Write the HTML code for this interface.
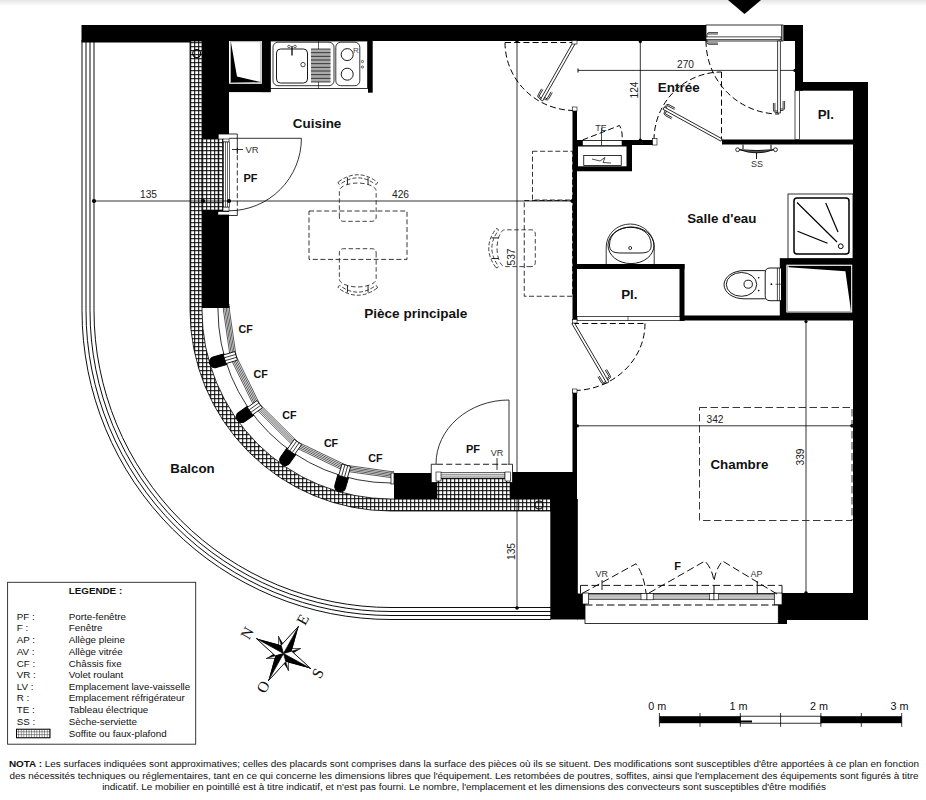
<!DOCTYPE html>
<html><head><meta charset="utf-8"><style>
html,body{margin:0;padding:0;background:#fff;width:926px;height:800px;overflow:hidden}
svg{display:block}
text{font-family:"Liberation Sans", sans-serif}
</style></head><body>
<svg width="926" height="800" viewBox="0 0 926 800">
<defs>
<linearGradient id="topg" x1="0" y1="0" x2="0" y2="1"><stop offset="0" stop-color="#e4e4e4"/><stop offset="1" stop-color="#fff"/></linearGradient>
<pattern id="hatch" patternUnits="userSpaceOnUse" x="2.2" y="2.2" width="4" height="4"><rect width="4" height="4" fill="#fff"/><path d="M0,0.5 H4 M0.5,0 V4" stroke="#000" stroke-width="1.0"/></pattern>
<pattern id="hatch2" patternUnits="userSpaceOnUse" x="0" y="0.5" width="2.6" height="2.9"><rect width="2.6" height="2.9" fill="#fff"/><path d="M0,0.3 H2.6 M0.3,0 V2.9" stroke="#333" stroke-width="0.6"/></pattern>
</defs>
<rect x="0" y="0" width="926" height="6" fill="url(#topg)" stroke="none" stroke-width="1" />
<polygon points="728,0 761,0 744.5,14" fill="#000"/>
<path d="M82,41 V310.5 A309,309 0 0 0 391,619.5 H551" fill="none" stroke="#000" stroke-width="0.95" />
<path d="M86,41 V310.5 A305,305 0 0 0 391,615.5 H551" fill="none" stroke="#000" stroke-width="0.95" />
<path d="M90,41 V310.5 A301,301 0 0 0 391,611.5 H551" fill="none" stroke="#000" stroke-width="0.95" />
<path d="M94,41 V310.5 A297,297 0 0 0 391,607.5 H551" fill="none" stroke="#000" stroke-width="0.95" />
<rect x="81.5" y="40" width="120.5" height="2.5" fill="#000" stroke="none" stroke-width="1" />
<path d="M190,41 V310.0 A201,201 0 0 0 391.0,511 H551 V499 H391.0 A189,189 0 0 1 202,310.0 V41 Z" fill="url(#hatch)" stroke="#000" stroke-width="0.8" />
<circle cx="196.7" cy="53.5" r="4" fill="none" stroke="#000" stroke-width="1.1"/>
<circle cx="539" cy="505" r="4" fill="none" stroke="#000" stroke-width="1.1"/>
<path d="M218,308 L218,310 A173,173 0 0 0 391,483 L394,483" fill="none" stroke="#000" stroke-width="0.8" />
<path d="M229.4,306 L229.4,310 L236.05,355.9 L259.69,404.19 L297.85,442.05 L346.32,465.3 L391,471.6 L394,471.6" fill="none" stroke="#000" stroke-width="0.65" />
<path d="M227.9,306 L227.9,310 L234.62,356.32 L258.47,405.06 L296.98,443.28 L345.91,466.74 L391,473.1 L394,473.1" fill="none" stroke="#000" stroke-width="0.65" />
<path d="M226.4,306 L226.4,310 L233.18,356.75 L257.25,405.93 L296.12,444.5 L345.49,468.18 L391,474.6 L394,474.6" fill="none" stroke="#000" stroke-width="0.65" />
<path d="M224.9,306 L224.9,310 L231.74,357.17 L256.03,406.81 L295.25,445.73 L345.08,469.63 L391,476.1 L394,476.1" fill="none" stroke="#000" stroke-width="0.65" />
<path d="M223.4,306 L223.4,310 L230.3,357.6 L254.81,407.68 L294.39,446.95 L344.66,471.07 L391,477.6 L394,477.6" fill="none" stroke="#000" stroke-width="0.65" />
<g transform="translate(217.45,361.41) rotate(-16.5)"><path d="M-8,-5.5 H3 A5,5.5 0 0 1 3,5.5 H-8 Z" fill="#000" stroke="#000" stroke-width="1" stroke-linejoin="round" transform="scale(-1,1)"/></g>
<g transform="translate(230.4,357.57) rotate(-16.5)"><rect x="-6" y="-4.5" width="12" height="9" fill="#fff" stroke="#000" stroke-width="0.8"/><line x1="-6" y1="-1.5" x2="6" y2="-1.5" stroke="#000" stroke-width="0.7"/><line x1="-6" y1="1.5" x2="6" y2="1.5" stroke="#000" stroke-width="0.7"/></g>
<g transform="translate(243.92,415.49) rotate(-35.65)"><path d="M-8,-5.5 H3 A5,5.5 0 0 1 3,5.5 H-8 Z" fill="#000" stroke="#000" stroke-width="1" stroke-linejoin="round" transform="scale(-1,1)"/></g>
<g transform="translate(254.89,407.62) rotate(-35.65)"><rect x="-6" y="-4.5" width="12" height="9" fill="#fff" stroke="#000" stroke-width="0.8"/><line x1="-6" y1="-1.5" x2="6" y2="-1.5" stroke="#000" stroke-width="0.7"/><line x1="-6" y1="1.5" x2="6" y2="1.5" stroke="#000" stroke-width="0.7"/></g>
<g transform="translate(286.67,457.9) rotate(-54.8)"><path d="M-8,-5.5 H3 A5,5.5 0 0 1 3,5.5 H-8 Z" fill="#000" stroke="#000" stroke-width="1" stroke-linejoin="round" transform="scale(-1,1)"/></g>
<g transform="translate(294.45,446.87) rotate(-54.8)"><rect x="-6" y="-4.5" width="12" height="9" fill="#fff" stroke="#000" stroke-width="0.8"/><line x1="-6" y1="-1.5" x2="6" y2="-1.5" stroke="#000" stroke-width="0.7"/><line x1="-6" y1="1.5" x2="6" y2="1.5" stroke="#000" stroke-width="0.7"/></g>
<g transform="translate(340.96,483.94) rotate(-73.95)"><path d="M-8,-5.5 H3 A5,5.5 0 0 1 3,5.5 H-8 Z" fill="#000" stroke="#000" stroke-width="1" stroke-linejoin="round" transform="scale(-1,1)"/></g>
<g transform="translate(344.69,470.97) rotate(-73.95)"><rect x="-6" y="-4.5" width="12" height="9" fill="#fff" stroke="#000" stroke-width="0.8"/><line x1="-6" y1="-1.5" x2="6" y2="-1.5" stroke="#000" stroke-width="0.7"/><line x1="-6" y1="1.5" x2="6" y2="1.5" stroke="#000" stroke-width="0.7"/></g>
<rect x="218" y="304.5" width="11" height="3" fill="#fff" stroke="#000" stroke-width="0.7" />
<rect x="391" y="473" width="3" height="11" fill="#fff" stroke="#000" stroke-width="0.7" />
<rect x="81.5" y="25" width="624.5" height="16" fill="#000" stroke="none" stroke-width="1" />
<rect x="783.5" y="25" width="19.5" height="16" fill="#000" stroke="none" stroke-width="1" />
<rect x="795" y="41" width="8" height="49.7" fill="#000" stroke="none" stroke-width="1" />
<rect x="795" y="82" width="73" height="8.7" fill="#000" stroke="none" stroke-width="1" />
<rect x="853" y="82" width="15" height="538" fill="#000" stroke="none" stroke-width="1" />
<rect x="782" y="593" width="86" height="27" fill="#000" stroke="none" stroke-width="1" />
<rect x="778" y="604.7" width="9" height="19.3" fill="#000" stroke="none" stroke-width="1" />
<rect x="202" y="41" width="27" height="98" fill="#000" stroke="none" stroke-width="1" />
<rect x="202" y="210" width="27" height="98" fill="#000" stroke="none" stroke-width="1" />
<rect x="229" y="83.6" width="41.6" height="8.5" fill="#000" stroke="none" stroke-width="1" />
<rect x="261.7" y="41" width="8.9" height="51.1" fill="#000" stroke="none" stroke-width="1" />
<rect x="368" y="41" width="4.7" height="51.7" fill="#000" stroke="none" stroke-width="1" />
<rect x="572.5" y="110" width="4.5" height="211" fill="#000" stroke="none" stroke-width="1" />
<rect x="572.5" y="390" width="4.5" height="82" fill="#000" stroke="none" stroke-width="1" />
<rect x="622" y="140" width="32" height="5" fill="#000" stroke="none" stroke-width="1" />
<rect x="722" y="139.5" width="131" height="5" fill="#000" stroke="none" stroke-width="1" />
<rect x="577" y="264" width="107.5" height="5" fill="#000" stroke="none" stroke-width="1" />
<rect x="679.5" y="264" width="5" height="57" fill="#000" stroke="none" stroke-width="1" />
<rect x="684" y="315.5" width="169" height="5" fill="#000" stroke="none" stroke-width="1" />
<rect x="394" y="473" width="43" height="26" fill="#000" stroke="none" stroke-width="1" />
<rect x="510" y="472" width="67" height="27" fill="#000" stroke="none" stroke-width="1" />
<rect x="550.3" y="499" width="27.5" height="120.5" fill="#000" stroke="none" stroke-width="1" />
<rect x="577" y="593.5" width="8" height="26" fill="#000" stroke="none" stroke-width="1" />
<rect x="218.2" y="134" width="19.1" height="5.5" fill="#fff" stroke="none" stroke-width="1" />
<rect x="229" y="139" width="8.3" height="76.5" fill="#fff" stroke="none" stroke-width="1" />
<rect x="218.2" y="211.8" width="10.8" height="2.8" fill="#fff" stroke="none" stroke-width="1" />
<rect x="202" y="139" width="21.5" height="71" fill="url(#hatch)" stroke="#000" stroke-width="0.6" />
<path d="M237.3,140 V134 H218.2 V211.8 M229,215.5 H237.3 V209" fill="none" stroke="#000" stroke-width="0.8" />
<rect x="223" y="139" width="6" height="3" fill="#fff" stroke="#000" stroke-width="0.6" />
<rect x="223" y="207" width="6" height="4" fill="#fff" stroke="#000" stroke-width="0.6" />
<rect x="223.5" y="142" width="6" height="65" fill="#fff" stroke="#000" stroke-width="0.6" />
<line x1="225.5" y1="142" x2="225.5" y2="207" stroke="#000" stroke-width="0.6" />
<line x1="227.5" y1="142" x2="227.5" y2="207" stroke="#000" stroke-width="0.6" />
<line x1="229" y1="138.3" x2="301.4" y2="138.3" stroke="#000" stroke-width="0.8" />
<path d="M301.4,138.3 A72.5,72.5 0 0 1 229,210.8" fill="none" stroke="#000" stroke-width="0.8" />
<line x1="237.3" y1="140" x2="237.3" y2="209" stroke="#000" stroke-width="0.8" stroke-dasharray="5,2.6"/>
<line x1="232" y1="149.5" x2="243" y2="149.5" stroke="#000" stroke-width="0.8" />
<line x1="237.3" y1="145" x2="237.3" y2="154" stroke="#000" stroke-width="0.8" />
<text x="252" y="153" font-size="9.5" text-anchor="middle" fill="#333" >VR</text>
<text x="250.5" y="181.5" font-size="11" font-weight="bold" text-anchor="middle" fill="#111" >PF</text>
<rect x="229.6" y="41" width="32.1" height="42.6" fill="#fff" stroke="none" stroke-width="1" />
<rect x="230.6" y="41.8" width="30.3" height="41" fill="none" stroke="#777" stroke-width="0.6" />
<polygon points="231,42.5 237,76.5 260.5,82 231,82.6" fill="#000"/>
<rect x="270.4" y="41" width="97.2" height="47.6" fill="#fff" stroke="#000" stroke-width="0.8" />
<line x1="318.5" y1="41" x2="318.5" y2="88.6" stroke="#000" stroke-width="0.6" />
<rect x="273" y="42.2" width="61" height="43.5" rx="5" fill="none" stroke="#000" stroke-width="0.8"/>
<rect x="276.5" y="49" width="31" height="34" rx="4" fill="none" stroke="#000" stroke-width="0.9"/>
<rect x="311" y="49" width="19.5" height="33" fill="#aaa"/>
<line x1="311" y1="49" x2="330.5" y2="49" stroke="#000" stroke-width="0.7" />
<line x1="311" y1="52.67" x2="330.5" y2="52.67" stroke="#000" stroke-width="0.7" />
<line x1="311" y1="56.33" x2="330.5" y2="56.33" stroke="#000" stroke-width="0.7" />
<line x1="311" y1="60" x2="330.5" y2="60" stroke="#000" stroke-width="0.7" />
<line x1="311" y1="63.67" x2="330.5" y2="63.67" stroke="#000" stroke-width="0.7" />
<line x1="311" y1="67.33" x2="330.5" y2="67.33" stroke="#000" stroke-width="0.7" />
<line x1="311" y1="71" x2="330.5" y2="71" stroke="#000" stroke-width="0.7" />
<line x1="311" y1="74.67" x2="330.5" y2="74.67" stroke="#000" stroke-width="0.7" />
<line x1="311" y1="78.33" x2="330.5" y2="78.33" stroke="#000" stroke-width="0.7" />
<line x1="311" y1="82" x2="330.5" y2="82" stroke="#000" stroke-width="0.7" />
<circle cx="289" cy="46.5" r="1.3" fill="none" stroke="#000" stroke-width="0.6"/>
<circle cx="295" cy="46.5" r="1.3" fill="none" stroke="#000" stroke-width="0.6"/>
<line x1="292" y1="46" x2="292" y2="55.5" stroke="#000" stroke-width="1.3" />
<circle cx="303" cy="64.6" r="2.2" fill="none" stroke="#000" stroke-width="0.7"/>
<rect x="335.8" y="42.2" width="24" height="43.5" rx="5" fill="none" stroke="#000" stroke-width="0.8"/>
<circle cx="347.2" cy="54.6" r="6" fill="none" stroke="#000" stroke-width="0.9"/>
<circle cx="347.2" cy="74.2" r="6" fill="none" stroke="#000" stroke-width="0.9"/>
<circle cx="362.5" cy="61.5" r="1.1" fill="none" stroke="#000" stroke-width="0.6"/>
<circle cx="362.5" cy="67" r="1.1" fill="none" stroke="#000" stroke-width="0.6"/>
<text x="356" y="52.5" font-size="8" text-anchor="middle" fill="#445" >R</text>
<line x1="94" y1="201" x2="572.5" y2="201" stroke="#000" stroke-width="0.8" />
<circle cx="94" cy="201" r="2.1" fill="#000" stroke="none" stroke-width="0.8"/>
<circle cx="203" cy="201" r="2.1" fill="#000" stroke="none" stroke-width="0.8"/>
<circle cx="229" cy="201" r="2.1" fill="#000" stroke="none" stroke-width="0.8"/>
<circle cx="572.5" cy="201" r="2.1" fill="#000" stroke="none" stroke-width="0.8"/>
<text x="148.5" y="197.5" font-size="10.2" text-anchor="middle" fill="#222" >135</text>
<text x="400.5" y="197.5" font-size="10.2" text-anchor="middle" fill="#222" >426</text>
<line x1="517" y1="41" x2="517" y2="608" stroke="#000" stroke-width="0.8" />
<circle cx="517" cy="41.5" r="1.6" fill="#000" stroke="none" stroke-width="0.8"/>
<circle cx="517" cy="608" r="1.8" fill="#000" stroke="none" stroke-width="0.8"/>
<text x="0" y="0" font-size="10.2" fill="#222" text-anchor="middle" transform="translate(514.5,257) rotate(-90)">537</text>
<text x="0" y="0" font-size="10.2" fill="#222" text-anchor="middle" transform="translate(514.5,551.5) rotate(-90)">135</text>
<line x1="578" y1="70.4" x2="795" y2="70.4" stroke="#000" stroke-width="0.8" />
<line x1="578" y1="68.5" x2="578" y2="72.5" stroke="#000" stroke-width="1" />
<circle cx="795" cy="70.4" r="1.6" fill="#000" stroke="none" stroke-width="0.8"/>
<text x="685.5" y="67.5" font-size="10.2" text-anchor="middle" fill="#222" >270</text>
<line x1="640.3" y1="41" x2="640.3" y2="140" stroke="#000" stroke-width="0.8" />
<circle cx="640.3" cy="41.5" r="1.6" fill="#000" stroke="none" stroke-width="0.8"/>
<circle cx="640.3" cy="140" r="1.6" fill="#000" stroke="none" stroke-width="0.8"/>
<text x="0" y="0" font-size="10.2" fill="#222" text-anchor="middle" transform="translate(637.5,90) rotate(-90)">124</text>
<line x1="577" y1="425.8" x2="852" y2="425.8" stroke="#000" stroke-width="0.8" />
<circle cx="577.5" cy="425.8" r="1.6" fill="#000" stroke="none" stroke-width="0.8"/>
<circle cx="852" cy="425.8" r="1.8" fill="#000" stroke="none" stroke-width="0.8"/>
<text x="715" y="422.5" font-size="10.2" text-anchor="middle" fill="#222" >342</text>
<line x1="806" y1="321" x2="806" y2="593" stroke="#000" stroke-width="0.8" />
<circle cx="806" cy="321.5" r="1.6" fill="#000" stroke="none" stroke-width="0.8"/>
<circle cx="806" cy="593" r="1.8" fill="#000" stroke="none" stroke-width="0.8"/>
<text x="0" y="0" font-size="10.2" fill="#222" text-anchor="middle" transform="translate(803.5,457) rotate(-90)">339</text>
<rect x="309" y="211" width="98" height="48.4" fill="none" stroke="#000" stroke-width="0.8" stroke-dasharray="5,2.6"/>
<g transform="translate(357.75,202) rotate(0)" fill="none" stroke="#222" stroke-width="0.85"><path d="M-18.4,15 V-11 C-18.4,-16 -8,-19 0,-19 C8,-19 18.4,-16 18.4,-11 V15 Q18.4,19.3 14,19.3 H-14 Q-18.4,19.3 -18.4,15 Z" stroke-dasharray="4.5,2.6"/><path d="M-19.5,-20 Q0,-34.5 19.5,-20 A1.6,1.6 0 0 1 17.5,-17.8 Q0,-30.5 -17.5,-17.8 A1.6,1.6 0 0 1 -19.5,-20 Z" stroke-dasharray="4,2"/><line x1="-10.3" y1="-24.5" x2="-10.3" y2="-17.5" stroke-width="1"/><line x1="10.3" y1="-24.5" x2="10.3" y2="-17.5" stroke-width="1"/></g>
<g transform="translate(357.75,268) rotate(180)" fill="none" stroke="#222" stroke-width="0.85"><path d="M-18.4,15 V-11 C-18.4,-16 -8,-19 0,-19 C8,-19 18.4,-16 18.4,-11 V15 Q18.4,19.3 14,19.3 H-14 Q-18.4,19.3 -18.4,15 Z" stroke-dasharray="4.5,2.6"/><path d="M-19.5,-20 Q0,-34.5 19.5,-20 A1.6,1.6 0 0 1 17.5,-17.8 Q0,-30.5 -17.5,-17.8 A1.6,1.6 0 0 1 -19.5,-20 Z" stroke-dasharray="4,2"/><line x1="-10.3" y1="-24.5" x2="-10.3" y2="-17.5" stroke-width="1"/><line x1="10.3" y1="-24.5" x2="10.3" y2="-17.5" stroke-width="1"/></g>
<g transform="translate(516,248.2) rotate(-90)" fill="none" stroke="#222" stroke-width="0.85"><path d="M-18.4,15 V-11 C-18.4,-16 -8,-19 0,-19 C8,-19 18.4,-16 18.4,-11 V15 Q18.4,19.3 14,19.3 H-14 Q-18.4,19.3 -18.4,15 Z" stroke-dasharray="4.5,2.6"/><path d="M-19.5,-20 Q0,-34.5 19.5,-20 A1.6,1.6 0 0 1 17.5,-17.8 Q0,-30.5 -17.5,-17.8 A1.6,1.6 0 0 1 -19.5,-20 Z" stroke-dasharray="4,2"/><line x1="-10.3" y1="-24.5" x2="-10.3" y2="-17.5" stroke-width="1"/><line x1="10.3" y1="-24.5" x2="10.3" y2="-17.5" stroke-width="1"/></g>
<rect x="532.5" y="151.25" width="40" height="48.75" fill="none" stroke="#000" stroke-width="0.8" stroke-dasharray="5,2.6"/>
<rect x="524.25" y="200.5" width="48.25" height="95.75" fill="none" stroke="#000" stroke-width="0.8" stroke-dasharray="5,2.6"/>
<line x1="505" y1="42.5" x2="574.6" y2="42.5" stroke="#000" stroke-width="1.0" stroke-dasharray="6,3.2"/>
<path d="M505,42.5 A69.6,68 0 0 0 574.6,110.5" fill="none" stroke="#000" stroke-width="1.0" stroke-dasharray="6,3.2"/>
<g transform="translate(574.6,42) rotate(119.6)" fill="none" stroke="#000" stroke-width="0.75"><rect x="0" y="-1.3" width="67" height="2.6" fill="#fff"/><path d="M64.5,-1.3 V-3 Q64.5,-5.6 62,-5.6 H55 M63,-1.3 V-4.1 H55"/><path d="M66.5,1.3 V3 Q66.5,5.6 64,5.6 H57 M65,1.3 V4.1 H57"/></g>
<rect x="572" y="40.5" width="5" height="3.5" fill="#fff" stroke="#000" stroke-width="0.6" />
<rect x="572.5" y="107" width="4.5" height="4" fill="#fff" stroke="#000" stroke-width="0.6" />
<rect x="577" y="140" width="55" height="31.25" fill="#000" stroke="none" stroke-width="1" />
<rect x="578" y="146.5" width="48.5" height="19.8" fill="#fff" stroke="none" stroke-width="1" />
<rect x="582.5" y="140.5" width="39.5" height="5" fill="#fff" stroke="#000" stroke-width="0.6" />
<rect x="583.75" y="155.5" width="37.5" height="10" fill="none" stroke="#000" stroke-width="0.8" />
<path d="M592,159 L600,161 L605,157.5 L603,162.5 L611,163" fill="none" stroke="#000" stroke-width="0.7" />
<path d="M582.5,140 L619.5,125.5 Q623,132 622,140" fill="none" stroke="#000" stroke-width="1.0" stroke-dasharray="6,3.2"/>
<line x1="601.5" y1="128" x2="601.5" y2="145.5" stroke="#000" stroke-width="0.7" />
<text x="601" y="130.5" font-size="9" text-anchor="middle" fill="#333" >TE</text>
<line x1="721.5" y1="72" x2="721.5" y2="140" stroke="#000" stroke-width="1.0" stroke-dasharray="6,3.2"/>
<path d="M654,140 A67.5,68 0 0 1 721.5,72" fill="none" stroke="#000" stroke-width="1.0" stroke-dasharray="6,3.2"/>
<g transform="translate(721.5,140) rotate(208.8)" fill="none" stroke="#000" stroke-width="0.75"><rect x="0" y="-1.3" width="66" height="2.6" fill="#fff"/><path d="M63.5,-1.3 V-3 Q63.5,-5.6 61,-5.6 H54 M62,-1.3 V-4.1 H54"/><path d="M65.5,1.3 V3 Q65.5,5.6 63,5.6 H56 M64,1.3 V4.1 H56"/></g>
<rect x="652.5" y="138.5" width="4.5" height="6.5" fill="#fff" stroke="#000" stroke-width="0.6" />
<rect x="706" y="25" width="77" height="16" fill="#fff" stroke="#000" stroke-width="0.8" />
<rect x="706" y="36.9" width="75" height="2.8" fill="#fff" stroke="#000" stroke-width="0.7" />
<path d="M706,41 A73,73 0 0 0 779,114" fill="none" stroke="#000" stroke-width="1.0" stroke-dasharray="6,3.2"/>
<g transform="translate(779,41) rotate(90)" fill="none" stroke="#000" stroke-width="0.75"><rect x="0" y="-1.3" width="72" height="2.6" fill="#fff"/><path d="M69.5,-1.3 V-3 Q69.5,-5.6 67,-5.6 H60 M68,-1.3 V-4.1 H60"/><path d="M71.5,1.3 V3 Q71.5,5.6 69,5.6 H62 M70,1.3 V4.1 H62"/></g>
<path d="M707,36.9 V34.5 Q707,32.6 709,32.6 H718 M707.8,34 H718" fill="none" stroke="#000" stroke-width="0.75" />
<path d="M707,39.7 V42.5 Q707,44.3 709,44.3 H718 M707.8,43 H718" fill="none" stroke="#000" stroke-width="0.75" />
<line x1="781.5" y1="25" x2="781.5" y2="41" stroke="#000" stroke-width="0.7" />
<rect x="795" y="90.7" width="4.5" height="48.8" fill="#fff" stroke="#000" stroke-width="0.7" />
<circle cx="737.6" cy="149.7" r="1.9" fill="none" stroke="#000" stroke-width="0.8"/>
<circle cx="775.5" cy="149.7" r="1.9" fill="none" stroke="#000" stroke-width="0.8"/>
<path d="M739.5,149.7 Q757,156 773.6,149.7 Q757,151.5 739.5,149.7 Z" fill="#555" stroke="#000" stroke-width="0.9" />
<path d="M743,144.5 V149 M771,144.5 V149" fill="none" stroke="#000" stroke-width="1" />
<line x1="756.5" y1="152.5" x2="756.5" y2="159" stroke="#000" stroke-width="0.9" />
<text x="757" y="167.3" font-size="9" text-anchor="middle" fill="#333" >SS</text>
<rect x="788" y="194" width="65" height="65" fill="#fff" stroke="#000" stroke-width="0.8" />
<rect x="794" y="198" width="55" height="56" rx="3" fill="none" stroke="#000" stroke-width="1.5"/>
<line x1="797" y1="202.5" x2="837" y2="242" stroke="#000" stroke-width="1.2" />
<line x1="825.75" y1="203" x2="838" y2="232" stroke="#000" stroke-width="1.2" />
<line x1="797.5" y1="231.25" x2="827.5" y2="243.25" stroke="#000" stroke-width="1.2" />
<circle cx="840.75" cy="246.25" r="2.4" fill="none" stroke="#000" stroke-width="1"/>
<rect x="779.8" y="258.2" width="73.2" height="57.8" fill="#000" stroke="none" stroke-width="1" />
<rect x="786.3" y="264.7" width="65.9" height="47.8" fill="#fff" stroke="none" stroke-width="1" />
<rect x="787.5" y="266" width="63.5" height="45.5" fill="none" stroke="#666" stroke-width="0.5" />
<polygon points="788.7,266 851,266 851,311 845.4,271.2 788.7,267.2" fill="#000"/>
<path d="M765.5,270.6 H744 A20,14.1 0 0 0 744,298.8 H765.5" fill="none" stroke="#000" stroke-width="0.9" />
<ellipse cx="741.5" cy="284.4" rx="15.2" ry="11.9" fill="none" stroke="#000" stroke-width="0.9"/>
<ellipse cx="748.2" cy="284.2" rx="4.2" ry="4" fill="none" stroke="#000" stroke-width="0.9"/>
<circle cx="758.7" cy="277.7" r="0.8" fill="#000" stroke="none" stroke-width="0.8"/>
<circle cx="758.7" cy="290.6" r="0.8" fill="#000" stroke="none" stroke-width="0.8"/>
<path d="M781,268 H770 Q765.2,268 765.2,273 V295.7 Q765.2,300.7 770,300.7 H781" fill="#fff" stroke="#000" stroke-width="0.9" />
<line x1="777.4" y1="268" x2="777.4" y2="300.7" stroke="#000" stroke-width="0.7" />
<line x1="779.5" y1="268" x2="779.5" y2="300.7" stroke="#000" stroke-width="0.6" />
<circle cx="771.4" cy="284.2" r="0.9" fill="#000" stroke="none" stroke-width="0.8"/>
<line x1="775.5" y1="284.2" x2="781" y2="284.2" stroke="#000" stroke-width="0.6" />
<path d="M606.2,264 V247 A24,23 0 0 1 654.2,247 V264" fill="none" stroke="#000" stroke-width="0.8" stroke="#333"/>
<ellipse cx="631" cy="245.3" rx="23" ry="18.3" fill="none" stroke="#000" stroke-width="0.9"/>
<path d="M609.5,245 C609.5,233 620,227.3 630.5,227.3 C641,227.3 651.2,233 651.2,245 C651.2,251 648,253 640,253 L621,253 C613,253 609.5,251 609.5,245 Z" fill="none" stroke="#000" stroke-width="0.9" />
<circle cx="630.2" cy="248" r="1.5" fill="none" stroke="#000" stroke-width="0.8"/>
<rect x="577" y="316.5" width="103" height="4" fill="#fff" stroke="#000" stroke-width="0.7" />
<line x1="628" y1="316.5" x2="628" y2="320.5" stroke="#000" stroke-width="0.6" />
<line x1="573" y1="323.5" x2="645" y2="323.5" stroke="#000" stroke-width="1.0" stroke-dasharray="6,3.2"/>
<path d="M645,323.5 A72,67 0 0 1 575,390.5" fill="none" stroke="#000" stroke-width="1.0" stroke-dasharray="6,3.2"/>
<g transform="translate(573,323) rotate(59.7)" fill="none" stroke="#000" stroke-width="0.75"><rect x="0" y="-1.3" width="69" height="2.6" fill="#fff"/><path d="M66.5,-1.3 V-3 Q66.5,-5.6 64,-5.6 H57 M65,-1.3 V-4.1 H57"/><path d="M68.5,1.3 V3 Q68.5,5.6 66,5.6 H59 M67,1.3 V4.1 H59"/></g>
<rect x="572.5" y="319.5" width="4.5" height="3.5" fill="#fff" stroke="#000" stroke-width="0.6" />
<rect x="572.5" y="389" width="4.5" height="4" fill="#fff" stroke="#000" stroke-width="0.6" />
<rect x="699.5" y="407.5" width="152.5" height="113" fill="none" stroke="#222" stroke-width="0.9" stroke-dasharray="7.5,3.5"/>
<rect x="431.25" y="463.75" width="81.25" height="18.75" fill="#fff" stroke="none" stroke-width="1" />
<rect x="437" y="478" width="73" height="21" fill="url(#hatch)" stroke="#000" stroke-width="0.6" />
<path d="M437,464.25 H431.25 V482.5 H512.5 V464.25 H508" fill="none" stroke="#000" stroke-width="0.8" />
<line x1="437" y1="464.25" x2="508" y2="464.25" stroke="#000" stroke-width="0.9" stroke-dasharray="6,3.2"/>
<rect x="440" y="472.5" width="65" height="5.5" fill="#fff" stroke="#000" stroke-width="0.6" />
<line x1="440" y1="474.3" x2="505" y2="474.3" stroke="#000" stroke-width="0.5" />
<line x1="440" y1="476.1" x2="505" y2="476.1" stroke="#000" stroke-width="0.5" />
<rect x="436" y="472" width="5" height="9" fill="#fff" stroke="#000" stroke-width="0.6" />
<rect x="505" y="472" width="5.5" height="9" fill="#fff" stroke="#000" stroke-width="0.6" />
<line x1="509" y1="400" x2="509" y2="464" stroke="#000" stroke-width="0.8" />
<path d="M509,400 A73,64 0 0 0 436,464" fill="none" stroke="#000" stroke-width="0.8" />
<line x1="497" y1="458" x2="497" y2="470" stroke="#000" stroke-width="0.8" />
<text x="473" y="453" font-size="11" font-weight="bold" text-anchor="middle" fill="#111" >PF</text>
<text x="497" y="455.5" font-size="9" text-anchor="middle" fill="#333" >VR</text>
<rect x="585" y="593.5" width="193.3" height="29.9" fill="#fff" stroke="#000" stroke-width="0.8" />
<rect x="587" y="594" width="188" height="5.6" fill="#aaa" stroke="#222" stroke-width="0.6" />
<line x1="587" y1="595.9" x2="775" y2="595.9" stroke="#fff" stroke-width="0.5" />
<line x1="587" y1="597.7" x2="775" y2="597.7" stroke="#fff" stroke-width="0.5" />
<line x1="585" y1="605" x2="778" y2="605" stroke="#000" stroke-width="1" stroke-dasharray="7.5,3.5"/>
<rect x="641" y="593.5" width="6" height="6.3" fill="#fff" stroke="#000" stroke-width="0.6" />
<rect x="647" y="593.5" width="6.2" height="6.3" fill="#fff" stroke="#000" stroke-width="0.6" />
<rect x="709.5" y="593.5" width="4.5" height="6.3" fill="#fff" stroke="#000" stroke-width="0.6" />
<rect x="714" y="593.5" width="4.5" height="6.3" fill="#fff" stroke="#000" stroke-width="0.6" />
<rect x="582.4" y="593" width="6.2" height="11" fill="#fff" stroke="#000" stroke-width="0.7" />
<rect x="774.3" y="593" width="7.7" height="11.7" fill="#fff" stroke="#000" stroke-width="0.7" />
<line x1="580.5" y1="585.4" x2="782" y2="585.4" stroke="#000" stroke-width="0.9" stroke-dasharray="7.5,3.5"/>
<line x1="580.5" y1="585.4" x2="580.5" y2="593.5" stroke="#000" stroke-width="0.9" />
<line x1="782" y1="585.4" x2="782" y2="593.5" stroke="#000" stroke-width="0.9" />
<path d="M583,593 L636,563.75 Q644,575 646,593" fill="none" stroke="#000" stroke-width="0.95" stroke-dasharray="7.5,3.5"/>
<path d="M649,593 L705,561 Q713,570 714,582.5" fill="none" stroke="#000" stroke-width="0.95" stroke-dasharray="7.5,3.5"/>
<path d="M777,594 L722.5,561 Q715,570 714,582.5" fill="none" stroke="#000" stroke-width="0.95" stroke-dasharray="7.5,3.5"/>
<line x1="602" y1="580" x2="602" y2="590" stroke="#000" stroke-width="0.9" />
<line x1="714" y1="585" x2="714" y2="593.5" stroke="#000" stroke-width="1" />
<line x1="757.25" y1="581.25" x2="757.25" y2="593.75" stroke="#000" stroke-width="0.9" />
<text x="601.8" y="577.2" font-size="9" text-anchor="middle" fill="#333" >VR</text>
<text x="756.4" y="577.2" font-size="9" text-anchor="middle" fill="#333" >AP</text>
<text x="677.5" y="569.5" font-size="11" font-weight="bold" text-anchor="middle" fill="#111" >F</text>
<text x="317.1" y="127.5" font-size="13.45" font-weight="bold" text-anchor="middle" fill="#111" >Cuisine</text>
<text x="678.7" y="91.5" font-size="13.45" font-weight="bold" text-anchor="middle" fill="#111" >Entrée</text>
<text x="721.8" y="222.5" font-size="13.35" font-weight="bold" text-anchor="middle" fill="#111" >Salle d'eau</text>
<text x="825.8" y="118.7" font-size="13.3" font-weight="bold" text-anchor="middle" fill="#111" >Pl.</text>
<text x="629.3" y="298.7" font-size="13.3" font-weight="bold" text-anchor="middle" fill="#111" >Pl.</text>
<text x="415.8" y="317.7" font-size="13.55" font-weight="bold" text-anchor="middle" fill="#111" >Pièce principale</text>
<text x="192.5" y="473.2" font-size="13.3" font-weight="bold" text-anchor="middle" fill="#111" >Balcon</text>
<text x="739.4" y="469.3" font-size="13.4" font-weight="bold" text-anchor="middle" fill="#111" >Chambre</text>
<text x="245.6" y="333.2" font-size="10.7" font-weight="bold" text-anchor="middle" fill="#111" >CF</text>
<text x="260.6" y="377.55" font-size="10.7" font-weight="bold" text-anchor="middle" fill="#111" >CF</text>
<text x="289.4" y="419.1" font-size="10.7" font-weight="bold" text-anchor="middle" fill="#111" >CF</text>
<text x="331" y="446.8" font-size="10.7" font-weight="bold" text-anchor="middle" fill="#111" >CF</text>
<text x="375.3" y="461.8" font-size="10.7" font-weight="bold" text-anchor="middle" fill="#111" >CF</text>
<rect x="7.6" y="582.3" width="188.1" height="161.9" fill="none" stroke="#222" stroke-width="0.9" />
<text x="68.8" y="594.2" font-size="9.8" font-weight="bold" text-anchor="start" fill="#111" >LEGENDE :</text>
<text x="16.7" y="619.8" font-size="9.8" text-anchor="start" fill="#111" >PF :</text>
<text x="68.8" y="619.8" font-size="9.8" text-anchor="start" fill="#111" >Porte-fenêtre</text>
<text x="16.7" y="631.1" font-size="9.8" text-anchor="start" fill="#111" >F :</text>
<text x="68.8" y="631.1" font-size="9.8" text-anchor="start" fill="#111" >Fenêtre</text>
<text x="16.7" y="643.1" font-size="9.8" text-anchor="start" fill="#111" >AP :</text>
<text x="68.8" y="643.1" font-size="9.8" text-anchor="start" fill="#111" >Allège pleine</text>
<text x="16.7" y="654.9" font-size="9.8" text-anchor="start" fill="#111" >AV :</text>
<text x="68.8" y="654.9" font-size="9.8" text-anchor="start" fill="#111" >Allège vitrée</text>
<text x="16.7" y="666.9" font-size="9.8" text-anchor="start" fill="#111" >CF :</text>
<text x="68.8" y="666.9" font-size="9.8" text-anchor="start" fill="#111" >Châssis fixe</text>
<text x="16.7" y="677.8" font-size="9.8" text-anchor="start" fill="#111" >VR :</text>
<text x="68.8" y="677.8" font-size="9.8" text-anchor="start" fill="#111" >Volet roulant</text>
<text x="16.7" y="689.7" font-size="9.8" text-anchor="start" fill="#111" >LV :</text>
<text x="68.8" y="689.7" font-size="9.8" text-anchor="start" fill="#111" >Emplacement lave-vaisselle</text>
<text x="16.7" y="701" font-size="9.8" text-anchor="start" fill="#111" >R :</text>
<text x="68.8" y="701" font-size="9.8" text-anchor="start" fill="#111" >Emplacement réfrigérateur</text>
<text x="16.7" y="712.9" font-size="9.8" text-anchor="start" fill="#111" >TE :</text>
<text x="68.8" y="712.9" font-size="9.8" text-anchor="start" fill="#111" >Tableau électrique</text>
<text x="16.7" y="725.1" font-size="9.8" text-anchor="start" fill="#111" >SS :</text>
<text x="68.8" y="725.1" font-size="9.8" text-anchor="start" fill="#111" >Sèche-serviette</text>
<text x="68.8" y="736.7" font-size="9.8" text-anchor="start" fill="#111" >Soffite ou faux-plafond</text>
<rect x="16.5" y="729.2" width="33.5" height="8.6" fill="url(#hatch2)" stroke="#000" stroke-width="1" />
<g transform="translate(283.5,653.5) rotate(-61)"><g transform="rotate(0)"><polygon points="0,-31 6,-6 0,0" fill="#000"/><polygon points="0,-31 -6,-6 0,0" fill="#fff" stroke="#000" stroke-width="0.7"/></g><g transform="rotate(90)"><polygon points="0,-31 6,-6 0,0" fill="#000"/><polygon points="0,-31 -6,-6 0,0" fill="#fff" stroke="#000" stroke-width="0.7"/></g><g transform="rotate(180)"><polygon points="0,-31 6,-6 0,0" fill="#000"/><polygon points="0,-31 -6,-6 0,0" fill="#fff" stroke="#000" stroke-width="0.7"/></g><g transform="rotate(270)"><polygon points="0,-31 6,-6 0,0" fill="#000"/><polygon points="0,-31 -6,-6 0,0" fill="#fff" stroke="#000" stroke-width="0.7"/></g><g transform="rotate(45)"><polygon points="0,-18 4,-4 0,0" fill="#000"/><polygon points="0,-18 -4,-4 0,0" fill="#fff" stroke="#000" stroke-width="0.6"/></g><g transform="rotate(135)"><polygon points="0,-18 4,-4 0,0" fill="#000"/><polygon points="0,-18 -4,-4 0,0" fill="#fff" stroke="#000" stroke-width="0.6"/></g><g transform="rotate(225)"><polygon points="0,-18 4,-4 0,0" fill="#000"/><polygon points="0,-18 -4,-4 0,0" fill="#fff" stroke="#000" stroke-width="0.6"/></g><g transform="rotate(315)"><polygon points="0,-18 4,-4 0,0" fill="#000"/><polygon points="0,-18 -4,-4 0,0" fill="#fff" stroke="#000" stroke-width="0.6"/></g><g transform="rotate(0)"><polygon points="0,-31 6,-6 0,0" fill="#000"/><polygon points="0,-31 -6,-6 0,0" fill="#fff" stroke="#000" stroke-width="0.7"/></g><g transform="rotate(90)"><polygon points="0,-31 6,-6 0,0" fill="#000"/><polygon points="0,-31 -6,-6 0,0" fill="#fff" stroke="#000" stroke-width="0.7"/></g><g transform="rotate(180)"><polygon points="0,-31 6,-6 0,0" fill="#000"/><polygon points="0,-31 -6,-6 0,0" fill="#fff" stroke="#000" stroke-width="0.7"/></g><g transform="rotate(270)"><polygon points="0,-31 6,-6 0,0" fill="#000"/><polygon points="0,-31 -6,-6 0,0" fill="#fff" stroke="#000" stroke-width="0.7"/></g></g>
<text x="0" y="0" style="font-family:'Liberation Serif', serif" font-size="15.5" fill="#111" text-anchor="middle" transform="translate(247,633) rotate(-61) translate(0,5.5)">N</text>
<text x="0" y="0" style="font-family:'Liberation Serif', serif" font-size="15.5" fill="#111" text-anchor="middle" transform="translate(302.4,619.5) rotate(-61) translate(0,5.5)">E</text>
<text x="0" y="0" style="font-family:'Liberation Serif', serif" font-size="15.5" fill="#111" text-anchor="middle" transform="translate(317.5,673) rotate(-61) translate(0,5.5)">S</text>
<text x="0" y="0" style="font-family:'Liberation Serif', serif" font-size="15.5" fill="#111" text-anchor="middle" transform="translate(263,686.8) rotate(-61) translate(0,5.5)">O</text>
<rect x="659.4" y="716.2" width="80.9" height="7" fill="#000" stroke="none" stroke-width="1" />
<rect x="740.3" y="716.2" width="80.6" height="7" fill="#fff" stroke="#000" stroke-width="0.8" />
<rect x="740.3" y="720.5" width="11.7" height="2" fill="#000" stroke="none" stroke-width="1" />
<rect x="820.9" y="716.2" width="80.8" height="7" fill="#000" stroke="none" stroke-width="1" />
<line x1="659.4" y1="713" x2="659.4" y2="726.8" stroke="#000" stroke-width="0.8" />
<line x1="700" y1="713" x2="700" y2="726.8" stroke="#000" stroke-width="0.8" />
<line x1="740.3" y1="713" x2="740.3" y2="726.8" stroke="#000" stroke-width="0.8" />
<line x1="780.6" y1="713" x2="780.6" y2="726.8" stroke="#000" stroke-width="0.8" />
<line x1="820.9" y1="713" x2="820.9" y2="726.8" stroke="#000" stroke-width="0.8" />
<line x1="861.3" y1="713" x2="861.3" y2="726.8" stroke="#000" stroke-width="0.8" />
<line x1="901.7" y1="713" x2="901.7" y2="726.8" stroke="#000" stroke-width="0.8" />
<text x="657.2" y="709.5" font-size="10.8" text-anchor="middle" fill="#111" >0 m</text>
<text x="738.5" y="709.5" font-size="10.8" text-anchor="middle" fill="#111" >1 m</text>
<text x="819" y="709.5" font-size="10.8" text-anchor="middle" fill="#111" >2 m</text>
<text x="899.5" y="709.5" font-size="10.8" text-anchor="middle" fill="#111" >3 m</text>
<text x="464" y="766.7" font-size="9.93" text-anchor="middle" fill="#111"><tspan font-weight="bold">NOTA :</tspan> Les surfaces indiquées sont approximatives; celles des placards sont comprises dans la surface des pièces où ils se situent. Des modifications sont susceptibles d'être apportées à ce plan en fonction</text>
<text x="464" y="778.5" font-size="9.93" text-anchor="middle" fill="#111">des nécessités techniques ou réglementaires, tant en ce qui concerne les dimensions libres que l'équipement. Les retombées de poutres, soffites, ainsi que l'emplacement des équipements sont figurés à titre</text>
<text x="464" y="790.3" font-size="9.93" text-anchor="middle" fill="#111">indicatif. Le mobilier en pointillé est à titre indicatif, et n'est pas fourni. Le nombre, l'emplacement et les dimensions des convecteurs sont susceptibles d'être modifiés</text>
</svg>
</body></html>
